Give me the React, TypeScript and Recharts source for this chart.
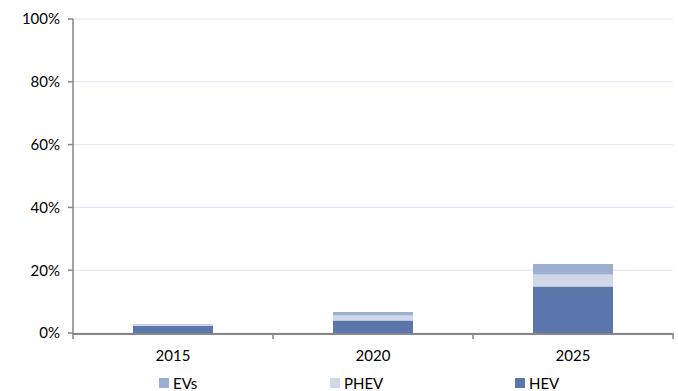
import React from "react";
import { BarChart, Bar, XAxis, YAxis, CartesianGrid, Legend } from "recharts";

const years = ["2015", "2020", "2025"];
const hev = [2.2, 4.0, 14.8];
const phev = [0.4, 1.6, 3.8];
const evs = [0.2, 1.1, 3.4];
const yTicks = [0, 20, 40, 60, 80, 100];
const boundaryTicks = [0, 1, 2, 3];

const data = years.map((y, i) => ({ year: y, idx: i + 0.5, HEV: hev[i], PHEV: phev[i], EVs: evs[i] }));

const COLORS = { HEV: "#5b76aa", PHEV: "#cfd7e8", EVs: "#9eaed1" };
const legendItems = [
  { name: "EVs", color: COLORS.EVs, x: 146 },
  { name: "PHEV", color: COLORS.PHEV, x: 317 },
  { name: "HEV", color: COLORS.HEV, x: 502 },
];

const FONT = "Lato, 'Open Sans', sans-serif";

const LegendContent = () => (
  <div style={{ position: "relative", height: 28, width: 678, fontFamily: FONT, fontSize: 15, color: "#000" }}>
    {legendItems.map((it) => (
      <div
        key={it.name}
        style={{ position: "absolute", left: it.x, top: 13, height: 14, lineHeight: "14px", display: "flex", alignItems: "center" }}
      >
        <span style={{ display: "inline-block", width: 10, height: 10, background: it.color, marginRight: 4 }} />
        <span>{it.name}</span>
      </div>
    ))}
  </div>
);

const EmptyTick = () => <g />;

export default function App() {
  return (
    <div style={{ position: "absolute", left: 0, top: 0, width: 678, height: 391, background: "#fff" }}>
      <BarChart
        width={678}
        height={391}
        data={data}
        margin={{ top: 19, right: 5, left: 13, bottom: 0 }}
        barCategoryGap="30%"
      >
        <CartesianGrid horizontal vertical={false} stroke="#dde3f0" strokeWidth={1} />
        <XAxis
          xAxisId="b"
          type="number"
          dataKey="idx"
          domain={[0, 3]}
          ticks={boundaryTicks}
          axisLine={false}
          tick={<EmptyTick />}
          tickLine={{ stroke: "#868686", strokeWidth: 1.5 }}
          tickSize={6}
          height={1}
        />
        <XAxis
          dataKey="year"
          xAxisId="cat"
          axisLine={{ stroke: "#868686", strokeWidth: 2 }}
          tickLine={false}
          height={29}
          tick={{ fill: "#000", fontSize: 15, fontFamily: FONT }}
          tickMargin={10}
        />
        <YAxis
          domain={[0, 100]}
          ticks={yTicks}
          tickFormatter={(v) => `${v}%`}
          axisLine={{ stroke: "#868686", strokeWidth: 1.5 }}
          tickLine={{ stroke: "#868686", strokeWidth: 1.5 }}
          tickSize={5}
          width={60}
          tick={{ fill: "#000", fontSize: 15, fontFamily: FONT }}
          tickMargin={8}
        />
        <Legend verticalAlign="bottom" content={<LegendContent />} />
        <Bar xAxisId="cat" dataKey="HEV" stackId="a" fill={COLORS.HEV} isAnimationActive={false} />
        <Bar xAxisId="cat" dataKey="PHEV" stackId="a" fill={COLORS.PHEV} isAnimationActive={false} />
        <Bar xAxisId="cat" dataKey="EVs" stackId="a" fill={COLORS.EVs} isAnimationActive={false} />
      </BarChart>
    </div>
  );
}
